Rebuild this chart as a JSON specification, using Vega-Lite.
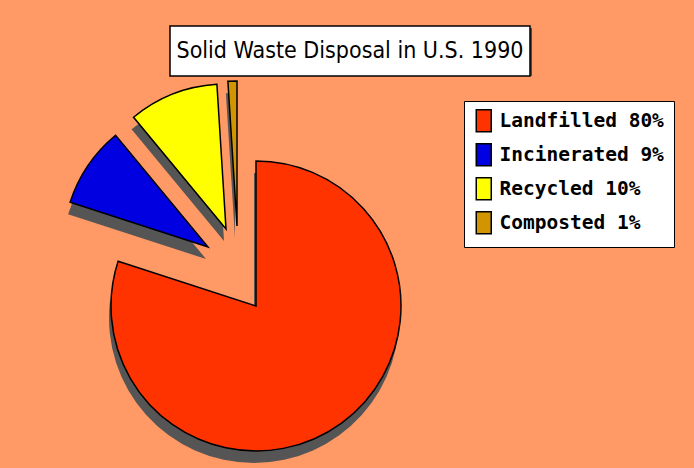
{
  "$schema": "https://vega.github.io/schema/vega-lite/v6.json",
  "background": "#FF9966",
  "padding": {"left": 6, "top": 25, "right": 0, "bottom": 0},
  "spacing": 0,
  "center": true,
  "bounds": "flush",
  "config": {"view": {"stroke": null}},
  "vconcat": [
    {
      "width": 360,
      "height": 50,
      "data": {"values": [{"title": "Solid Waste Disposal in U.S. 1990"}]},
      "layer": [
        {"mark": {"type": "rect", "color": "#4a4a4a", "xOffset": 2, "x2Offset": 2, "yOffset": 2, "y2Offset": 2}, "encoding": {}},
        {"mark": {"type": "rect", "fill": "white", "stroke": "black", "strokeWidth": 1.5}, "encoding": {}},
        {"mark": {"type": "text", "font": "'DejaVu Sans Condensed', 'Liberation Sans Narrow', 'Liberation Sans'", "fontSize": 23, "color": "black"}, "encoding": {"text": {"field": "title", "type": "nominal"}}}
      ]
    },
    {
      "width": 688,
      "height": 393,
      "data": {"values": [
        {"method": "Landfilled", "share": 80, "rank": 1, "label": "Landfilled 80%"},
        {"method": "Incinerated", "share": 9, "rank": 2, "label": "Incinerated 9%"},
        {"method": "Recycled", "share": 10, "rank": 3, "label": "Recycled 10%"},
        {"method": "Composted", "share": 1, "rank": 4, "label": "Composted 1%"}
      ]},
      "transform": [
        {"stack": "share", "groupby": [], "sort": [{"field": "rank", "order": "ascending"}], "as": ["t0", "t1"]}
      ],
      "encoding": {
        "theta": {"field": "t0", "type": "quantitative", "scale": {"domain": [0, 100]}},
        "theta2": {"field": "t1"},
        "color": {
          "field": "label",
          "type": "nominal",
          "scale": {
            "domain": ["Landfilled 80%", "Incinerated 9%", "Recycled 10%", "Composted 1%"],
            "range": ["#FF3300", "#0000E0", "#FFFF00", "#D09500"]
          },
          "legend": {
            "orient": "none",
            "legendX": 458,
            "legendY": 75,
            "title": null,
            "fillColor": "white",
            "strokeColor": "black",
            "padding": 10,
            "rowPadding": 5,
            "symbolType": "M-1,-1.47H1V1.47H-1Z",
            "symbolSize": 225,
            "symbolStrokeColor": "black",
            "symbolStrokeWidth": 1.5,
            "symbolOpacity": 1,
            "labelFont": "DejaVu Sans Mono",
            "labelFontWeight": "bold",
            "labelFontSize": 19.5,
            "labelColor": "black",
            "labelOffset": 6,
            "labelLimit": 400
          }
        }
      },
      "layer": [
        {"transform": [{"filter": {"field": "method", "equal": "Landfilled"}}],
         "mark": {"type": "arc", "outerRadius": 145, "xOffset": -96, "yOffset": 45.5},
         "encoding": {"color": {"value": "#555555"}}},
        {"transform": [{"filter": {"field": "method", "equal": "Incinerated"}}],
         "mark": {"type": "arc", "outerRadius": 145, "xOffset": -144, "yOffset": -13.5},
         "encoding": {"color": {"value": "#555555"}}},
        {"transform": [{"filter": {"field": "method", "equal": "Recycled"}}],
         "mark": {"type": "arc", "outerRadius": 145, "xOffset": -126, "yOffset": -31.5},
         "encoding": {"color": {"value": "#555555"}}},
        {"transform": [{"filter": {"field": "method", "equal": "Composted"}}],
         "mark": {"type": "arc", "outerRadius": 145, "xOffset": -115, "yOffset": -34.5},
         "encoding": {"color": {"value": "#555555"}}},
        {"transform": [{"filter": {"field": "method", "equal": "Landfilled"}}],
         "mark": {"type": "arc", "outerRadius": 145, "xOffset": -94, "yOffset": 33.5, "stroke": "black", "strokeWidth": 1.5},
         "encoding": {}},
        {"transform": [{"filter": {"field": "method", "equal": "Incinerated"}}],
         "mark": {"type": "arc", "outerRadius": 145, "xOffset": -142, "yOffset": -25.5, "stroke": "black", "strokeWidth": 1.5},
         "encoding": {}},
        {"transform": [{"filter": {"field": "method", "equal": "Recycled"}}],
         "mark": {"type": "arc", "outerRadius": 145, "xOffset": -124, "yOffset": -43.5, "stroke": "black", "strokeWidth": 1.5},
         "encoding": {}},
        {"transform": [{"filter": {"field": "method", "equal": "Composted"}}],
         "mark": {"type": "arc", "outerRadius": 145, "xOffset": -113, "yOffset": -46.5, "stroke": "black", "strokeWidth": 1.5},
         "encoding": {}}
      ]
    }
  ]
}
